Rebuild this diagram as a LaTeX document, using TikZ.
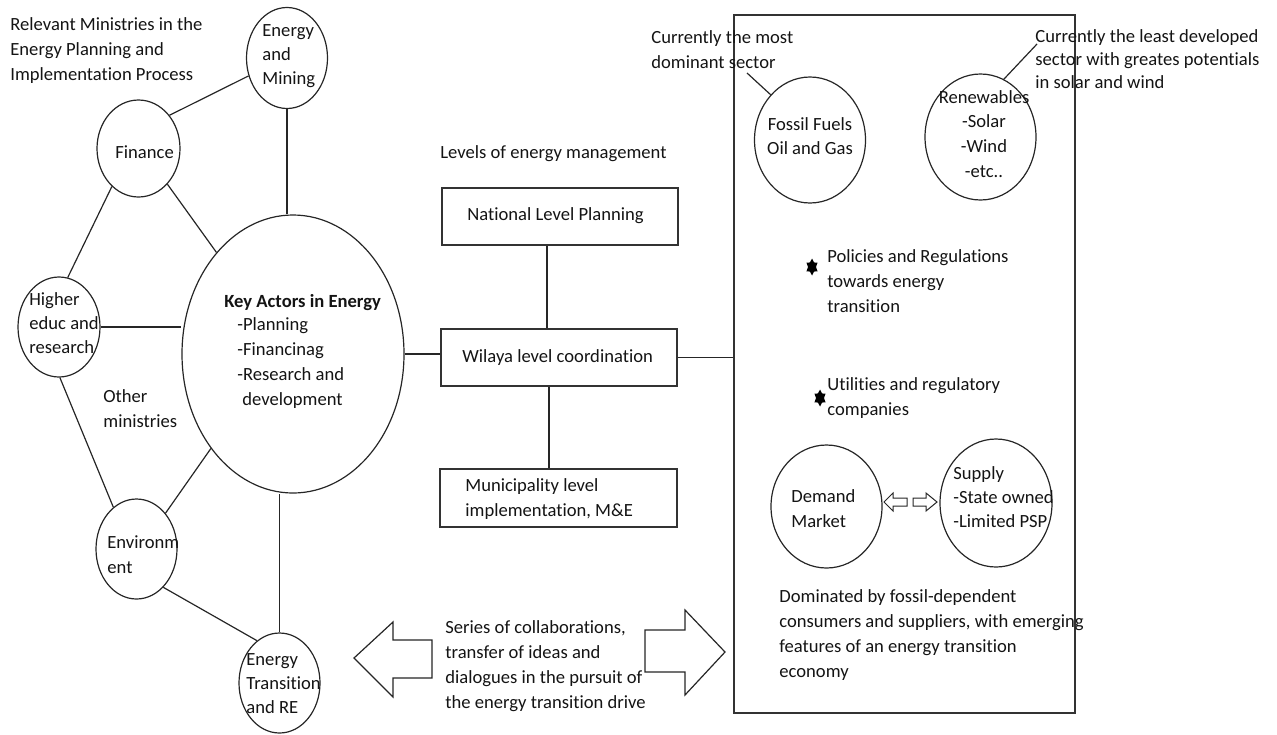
\documentclass[tikz,border=0pt]{standalone}
\usepackage{fontspec}
\setmainfont{Carlito}[Ligatures={NoCommon,NoContextual}]
\usetikzlibrary{shapes.geometric}
\begin{document}
\begin{tikzpicture}[x=0.5pt,y=-0.5pt,
 ell/.style={draw=black!85, line width=0.6pt, ellipse, inner sep=0},
 boxn/.style={draw=black!80, line width=0.7pt, rectangle, inner sep=0},
 lbl/.style={inner sep=0, anchor=base west, align=left, text=black!92, font=\fontsize{9.3pt}{12.5pt}\selectfont},
 clbl/.style={lbl, anchor=base, align=center},
 con/.style={draw=black!85, line width=0.6pt},
 blk/.style={draw=black!85, line width=0.6pt, fill=white, line join=miter},
 starmark/.style={star, star points=6, star point ratio=1.6, fill=black, draw=none, inner sep=0, minimum size=8.5pt, xscale=0.75, transform shape}
]
\useasboundingbox (0,0) rectangle (1277,734);

% sector box
\node[boxn, minimum width=170.5pt, minimum height=349pt] (sec) at (904.5,364) {};

% ministries ellipses
\node[ell, minimum width=40.5pt, minimum height=50.5pt] (em) at (287,58) {};
\node[ell, minimum width=41.5pt, minimum height=48.5pt] (fin) at (138.5,148.5) {};
\node[ell, minimum width=41pt, minimum height=50pt] (hi) at (59,327) {};
\node[ell, minimum width=111pt, minimum height=139pt] (key) at (293,354) {};
\node[ell, minimum width=40.5pt, minimum height=50pt] (env) at (136.5,549) {};
\node[ell, minimum width=40.5pt, minimum height=50pt] (etre) at (279.5,683) {};

% level boxes
\node[boxn, minimum width=118pt, minimum height=28.5pt] (nat) at (560,216.5) {};
\node[boxn, minimum width=118pt, minimum height=28.5pt] (wil) at (559,357.5) {};
\node[boxn, minimum width=118.5pt, minimum height=29pt] (mun) at (558.5,498) {};

% sector ellipses
\node[ell, minimum width=55.5pt, minimum height=63pt] (fos) at (810,140) {};
\node[ell, minimum width=55.5pt, minimum height=63pt] (ren) at (980.5,137) {};
\node[ell, minimum width=55.5pt, minimum height=61.5pt] (dem) at (826.5,506.5) {};
\node[ell, minimum width=56pt, minimum height=64pt] (sup) at (996,503) {};

% connectors among ministries
\draw[con] (fin.47) -- (em.205);
\draw[con] (em.south) -- (em.south |- key.north);
\draw[con] (fin.235) -- (hi.80);
\draw[con] (fin.309) -- (key.127);
\draw[con] (hi.east) -- (key.west |- hi.east);
\draw[con] (hi.271) -- (env.119);
\draw[con] (key.229.5) -- (env.51);
\draw[con] (etre.north) -- (etre.north |- key.south);
\draw[con] (env.305.5) -- (etre.118);

% levels connectors
\draw[con] (key.east) -- (key.east -| wil.west);
\draw[con] ([xshift=-6.5pt]nat.south) -- ([xshift=-6.5pt]nat.south |- wil.north);
\draw[con] ([xshift=-5pt]wil.south) -- ([xshift=-5pt]wil.south |- mun.north);
\draw[con] (wil.east) -- (wil.east -| sec.west);

% annotation leaders
\coordinate (fosnote) at (747,73);
\coordinate (rennote) at (1037,44);
\draw[con] (fos.131) -- (fosnote);
\draw[con] (ren.68) -- (rennote);

% big block arrows
\draw[blk] (432,640) -- (393,640) -- (393,622) -- (354,658) -- (393,697) -- (393,678) -- (432,678) -- cycle;
\draw[blk] (645,630) -- (685,630) -- (685,610) -- (725,652) -- (685,695) -- (685,672) -- (645,672) -- cycle;

% small block arrows
\draw[blk, line width=0.5pt] (907,498) -- (893,498) -- (893,493) -- (884,502) -- (893,511) -- (893,506) -- (907,506) -- cycle;
\draw[blk, line width=0.5pt] (913,498) -- (926,498) -- (926,493) -- (937,502) -- (926,511) -- (926,506) -- (913,506) -- cycle;

% stars
\node[starmark] (s1) at (812,267) {};
\node[starmark] (s2) at (820,398) {};

% texts (multi-line nodes: position = baseline of the last line)
\node[lbl] (title) at (10,80) {Relevant Ministries in the\\Energy Planning and\\Implementation Process};
\node[lbl, font=\fontsize{9.3pt}{11.8pt}\selectfont] (emt) at (262,84) {Energy\\and\\Mining};
\node[lbl] (fint) at (115,158) {Finance};
\node[lbl, font=\fontsize{9.3pt}{12pt}\selectfont] (hit) at (29,353) {Higher\\educ and\\research};
\node[lbl] (oth) at (103,427) {Other\\ministries};
\node[lbl, font=\fontsize{9.3pt}{12.5pt}\selectfont\bfseries] (keyh) at (224,307) {Key Actors in Energy};
\node[lbl] (keyt) at (237,405) {-Planning\\-Financinag\\-Research and\\\hspace{2.5pt}development};
\node[lbl] (envt) at (107,573) {Environm\\ent};
\node[lbl, font=\fontsize{9.3pt}{12pt}\selectfont] (etret) at (246,713) {Energy\\Transition\\and RE};

\node[lbl] (lev) at (440,158) {Levels of energy management};
\node[lbl] (natt) at (467,220) {National Level Planning};
\node[lbl] (wilt) at (462,362) {Wilaya level coordination};
\node[lbl] (munt) at (465,516) {Municipality level\\implementation, M\&E};
\node[lbl] (ser) at (445,708) {Series of collaborations,\\transfer of ideas and\\dialogues in the pursuit of\\the energy transition drive};

\node[lbl] (most) at (651,68) {Currently the most\\dominant sector};
\node[clbl, font=\fontsize{9.3pt}{12pt}\selectfont] (fost) at (810,154) {Fossil Fuels\\Oil and Gas};
\node[clbl, font=\fontsize{9.3pt}{12.3pt}\selectfont] (rent) at (984,177) {Renewables\\-Solar\\-Wind\\-etc..};
\node[lbl, font=\fontsize{9.3pt}{11.3pt}\selectfont] (least) at (1035,88) {Currently the least developed\\sector with greates potentials\\in solar and wind};
\node[lbl] (pol) at (827,312) {Policies and Regulations\\towards energy\\transition};
\node[lbl] (uti) at (827,415) {Utilities and regulatory\\companies};
\node[lbl] (demt) at (791,527) {Demand\\Market};
\node[lbl, font=\fontsize{9.3pt}{11.8pt}\selectfont] (supt) at (953,527) {Supply\\-State owned\\-Limited PSP};
\node[lbl] (dom) at (779,677) {Dominated by fossil-dependent\\consumers and suppliers, with emerging\\features of an energy transition\\economy};
\end{tikzpicture}
\end{document}
